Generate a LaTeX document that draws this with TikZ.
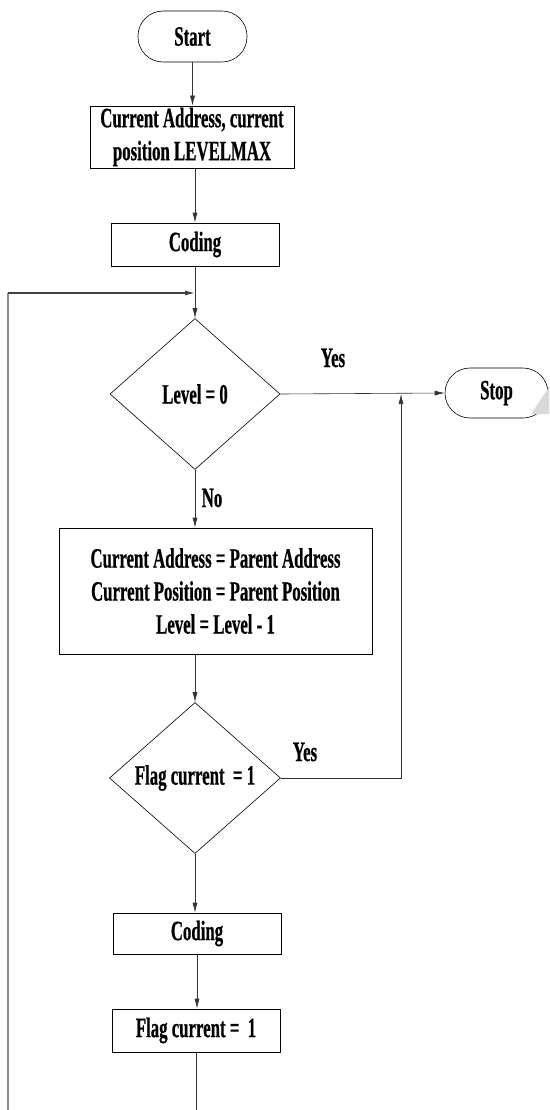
\documentclass[tikz,border=0pt]{standalone}
\usepackage{fontspec}
\setmainfont{Liberation Serif}[FakeStretch=0.6,BoldFeatures={FakeBold=0.6}]
\usetikzlibrary{shapes.geometric,arrows.meta}
\begin{document}
\begin{tikzpicture}[x=1pt,y=-1pt,
  every node/.style={font=\fontsize{28}{33}\selectfont\bfseries},
  box/.style={draw,line width=0.6pt,inner sep=0pt,align=center},
  term/.style={box,rounded corners=25pt},
  decision/.style={draw,diamond,line width=0.6pt,inner sep=0pt,align=center},
  conn/.style={draw=black!80,line width=0.6pt},
  flow/.style={conn,-{Latex[length=10pt,width=5pt]}},
  lbl/.style={inner sep=0pt}]
\useasboundingbox (0,0) rectangle (549,1110);
\node[term,minimum width=109pt,minimum height=51pt] (start) at (192.5,36.5) {Start};
\node[box,minimum width=204pt,minimum height=62pt] (init) at (192,137) {Current Address, current\\position LEVELMAX};
\node[box,minimum width=168pt,minimum height=43pt] (code1) at (195,244.5) {Coding};
\node[decision,minimum width=170pt,minimum height=151pt] (lev) at (195,394) {Level = 0};
\node[term,minimum width=103pt,minimum height=50pt] (stop) at (496.5,393) {Stop};
\node[box,minimum width=313pt,minimum height=126pt] (upd) at (215.5,591) {Current Address = Parent Address\\Current Position = Parent Position\\Level = Level - 1};
\node[decision,minimum width=171pt,minimum height=151pt] (flag) at (195,778) {Flag current\ \ = 1};
\node[box,minimum width=168pt,minimum height=41pt] (code2) at (197,933.5) {Coding};
\node[box,minimum width=168pt,minimum height=43pt] (set) at (196,1030.5) {Flag current =\ \ 1};
\node[lbl] (yes1) at (333,358) {Yes};
\node[lbl] (no1) at (212,498) {No};
\node[lbl] (yes2) at (305,752) {Yes};
\coordinate (j) at (401,394);
\coordinate (lp) at (195,293);
\coordinate (tl) at (8,293);
\coordinate (bl) at (8,1110);
\coordinate (bot) at (196,1110);
\fill[gray!30] (531,414) -- (549,387) -- (549,414) -- cycle;
\draw[flow] (start.south) -- (start.south |- init.north);
\draw[flow] (code1.north |- init.south) -- (code1.north);
\draw[flow] (code1.south) -- (lev.north);
\draw[flow] (lev.east) -- (stop.west);
\draw[flow] (lev.south) -- (lev.south |- upd.north);
\draw[flow] (flag.north |- upd.south) -- (flag.north);
\draw[flow] (flag.east) -| (j);
\draw[flow] (flag.south) -- (flag.south |- code2.north);
\draw[flow] (code2.south) -- (code2.south |- set.north);
\draw[conn] (set.south) -- (bot);
\draw[draw=black!45,line width=1.5pt] (bl) -- (tl);
\draw[draw=black!75,line width=1.2pt,-{Latex[length=10pt,width=5pt]}] (tl) -- (lp);
\end{tikzpicture}
\end{document}
